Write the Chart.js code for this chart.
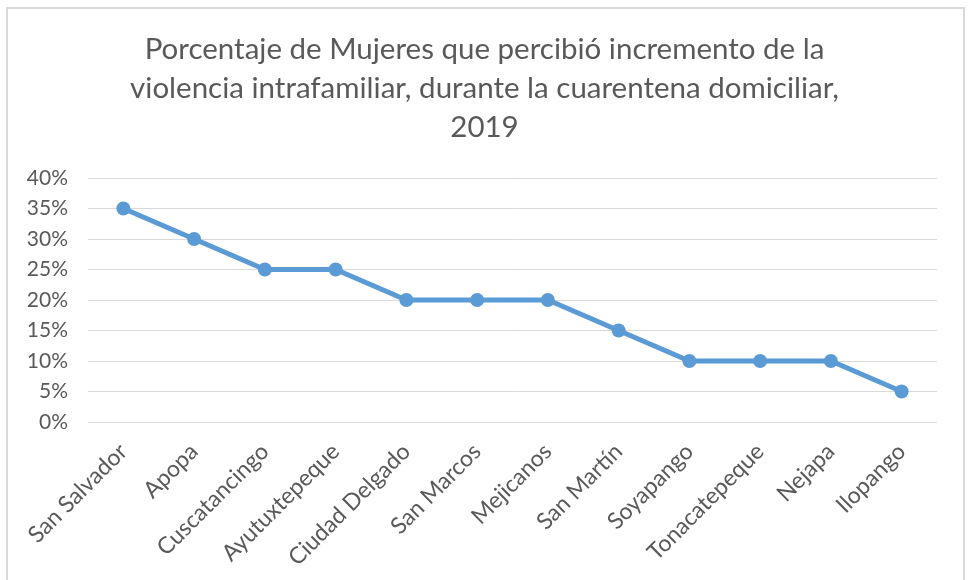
<!DOCTYPE html>
<html>
<head>
<meta charset="utf-8">
<script src="https://cdn.jsdelivr.net/npm/chart.js@4/dist/chart.umd.min.js"></script>
<style>
  html, body { margin: 0; padding: 0; background: #fff; }
  #wrap { position: absolute; left: 0; top: 0; width: 969px; height: 580px; }
  #frame { position: absolute; left: 6px; top: 7px; width: 959px; height: 600px; border: 2px solid #D9D9D9; box-sizing: border-box; }
</style>
</head>
<body>
<div id="frame"></div>
<div id="wrap"><canvas id="c" width="969" height="580"></canvas></div>
<script>
const categories = ["San Salvador", "Apopa", "Cuscatancingo", "Ayutuxtepeque", "Ciudad Delgado", "San Marcos", "Mejicanos", "San Martín", "Soyapango", "Tonacatepeque", "Nejapa", "Ilopango"];
const values = [35, 30, 25, 25, 20, 20, 20, 15, 10, 10, 10, 5];
const titleLines = ["Porcentaje de Mujeres que percibió incremento de la", "violencia intrafamiliar, durante la cuarentena domiciliar,", "2019"];
const yTicks = [0, 5, 10, 15, 20, 25, 30, 35, 40];

const FONT = "Lato, 'Open Sans', sans-serif";
const TXT = "#595959";

// Title centred on the whole chart frame (like the Excel chart title)
const centredTitle = {
  id: 'centredTitle',
  afterDraw(chart) {
    const ctx = chart.ctx;
    ctx.save();
    ctx.fillStyle = TXT;
    ctx.font = "29.5px " + FONT;
    ctx.textAlign = 'center';
    ctx.textBaseline = 'middle';
    const cx = chart.width / 2;
    titleLines.forEach((t, i) => ctx.fillText(t, cx, 49 + i * 39));
    ctx.restore();
  }
};

new Chart(document.getElementById('c'), {
  type: 'line',
  data: {
    labels: categories,
    datasets: [{
      data: values,
      borderColor: '#5B9BD5',
      backgroundColor: '#5B9BD5',
      borderWidth: 5,
      pointRadius: 7,
      pointHoverRadius: 7,
      pointBorderWidth: 0,
      tension: 0,
      fill: false
    }]
  },
  plugins: [centredTitle],
  options: {
    responsive: false,
    animation: false,
    events: [],
    layout: { padding: { left: 10, right: 32, top: 178, bottom: 0 } },
    plugins: {
      legend: { display: false },
      tooltip: { enabled: false },
      title: { display: false }
    },
    scales: {
      x: {
        offset: true,
        grid: { display: false, drawTicks: false },
        border: { display: false },
        ticks: {
          color: TXT,
          font: { family: FONT, size: 23 },
          minRotation: 45,
          maxRotation: 45,
          autoSkip: false,
          padding: 16
        },
        afterFit: (s) => { s.height = 158; }
      },
      y: {
        min: 0,
        max: 40,
        afterBuildTicks: (s) => { s.ticks = yTicks.map(v => ({ value: v })); },
        grid: { color: '#D9D9D9', lineWidth: 1, drawTicks: false },
        border: { display: false },
        ticks: {
          color: TXT,
          font: { family: FONT, size: 21 },
          padding: 20,
          callback: (v) => v + '%'
        },
        afterFit: (s) => { s.width = 78; }
      }
    }
  }
});
</script>
</body>
</html>
